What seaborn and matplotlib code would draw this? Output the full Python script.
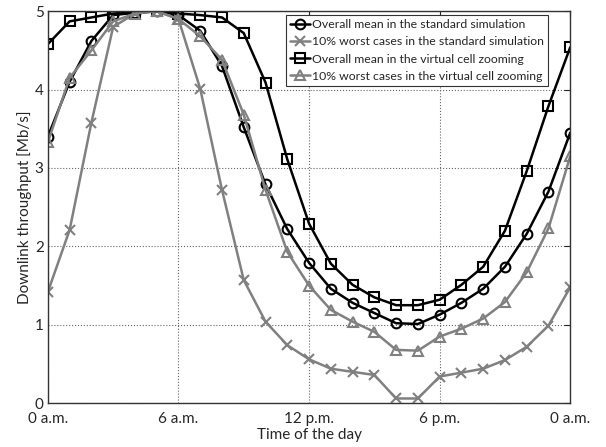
import pandas as pd
import matplotlib
matplotlib.use('Agg')
import matplotlib.pyplot as plt
import seaborn as sns

# hourly samples, 0 a.m. to 0 a.m. next day
hours = list(range(25))
mean_standard = [3.40, 4.10, 4.62, 4.95, 4.98, 5.00, 4.95, 4.75, 4.30, 3.52, 2.79, 2.22,
                 1.79, 1.46, 1.28, 1.15, 1.02, 1.01, 1.13, 1.28, 1.46, 1.74, 2.16, 2.70, 3.45]
worst_standard = [1.42, 2.21, 3.58, 4.80, 4.97, 5.00, 4.90, 4.01, 2.72, 1.57, 1.04, 0.74,
                  0.56, 0.44, 0.40, 0.36, 0.06, 0.06, 0.34, 0.39, 0.44, 0.55, 0.72, 0.99, 1.48]
mean_zoom = [4.58, 4.87, 4.92, 4.97, 4.98, 5.00, 4.97, 4.95, 4.92, 4.72, 4.09, 3.11,
             2.29, 1.78, 1.51, 1.35, 1.25, 1.25, 1.32, 1.51, 1.74, 2.20, 2.96, 3.79, 4.54]
worst_zoom = [3.33, 4.15, 4.50, 4.87, 4.97, 5.00, 4.90, 4.68, 4.38, 3.68, 2.72, 1.93,
              1.50, 1.19, 1.04, 0.91, 0.68, 0.67, 0.85, 0.95, 1.08, 1.29, 1.67, 2.23, 3.15]

labels = ['Overall mean in the standard simulation',
          '10% worst cases in the standard simulation',
          'Overall mean in the virtual cell zooming',
          '10% worst cases in the virtual cell zooming']
tick_pos = [0, 6, 12, 18, 24]
tick_labels = ['0 a.m.', '6 a.m.', '12 p.m.', '6 p.m.', '0 a.m.']

sns.set_style("white")
plt.rcParams['font.family'] = ['Lato', 'DejaVu Sans']
plt.rcParams['xtick.direction'] = 'in'
plt.rcParams['ytick.direction'] = 'in'

fig = plt.figure(figsize=(6.06, 4.47), dpi=100)
ax = fig.add_axes([0.079, 0.098, 0.862, 0.877])

black = '#000000'
gray = '#808080'
styles = [(mean_standard, black, 'o'), (worst_standard, gray, 'x'),
          (mean_zoom, black, 's'), (worst_zoom, gray, '^')]
for (vals, col, mk), lab in zip(styles, labels):
    sns.lineplot(x=hours, y=vals, ax=ax, color=col, marker=mk, markersize=7,
                 markerfacecolor='none', markeredgecolor=col, markeredgewidth=1.5,
                 linewidth=1.8, label=lab)

ax.set_xlim(0, 24)
ax.set_ylim(0, 5)
ax.set_xticks(tick_pos)
ax.set_xticklabels(tick_labels)
ax.set_yticks([0, 1, 2, 3, 4, 5])
ax.tick_params(labelsize=11, length=4, top=True, right=True)
ax.tick_params(axis='x', pad=6)
ax.tick_params(axis='y', pad=3)
ax.grid(True, linestyle=':', color='#666666', linewidth=0.8)
for sp in ax.spines.values():
    sp.set_color('#333333')
    sp.set_linewidth(1.0)
ax.set_xlabel('Time of the day', fontsize=11, labelpad=2)
ax.set_ylabel('Downlink throughput [Mb/s]', fontsize=11, labelpad=2)

leg = ax.legend(loc='upper right', bbox_to_anchor=(0.958, 0.99), fontsize=8.8,
                handlelength=1.6, handletextpad=0.2, borderpad=0.35, labelspacing=0.5,
                fancybox=False, framealpha=1, edgecolor='#333333', borderaxespad=0)
leg.get_frame().set_linewidth(0.8)

fig.savefig('out.png', dpi=100)
